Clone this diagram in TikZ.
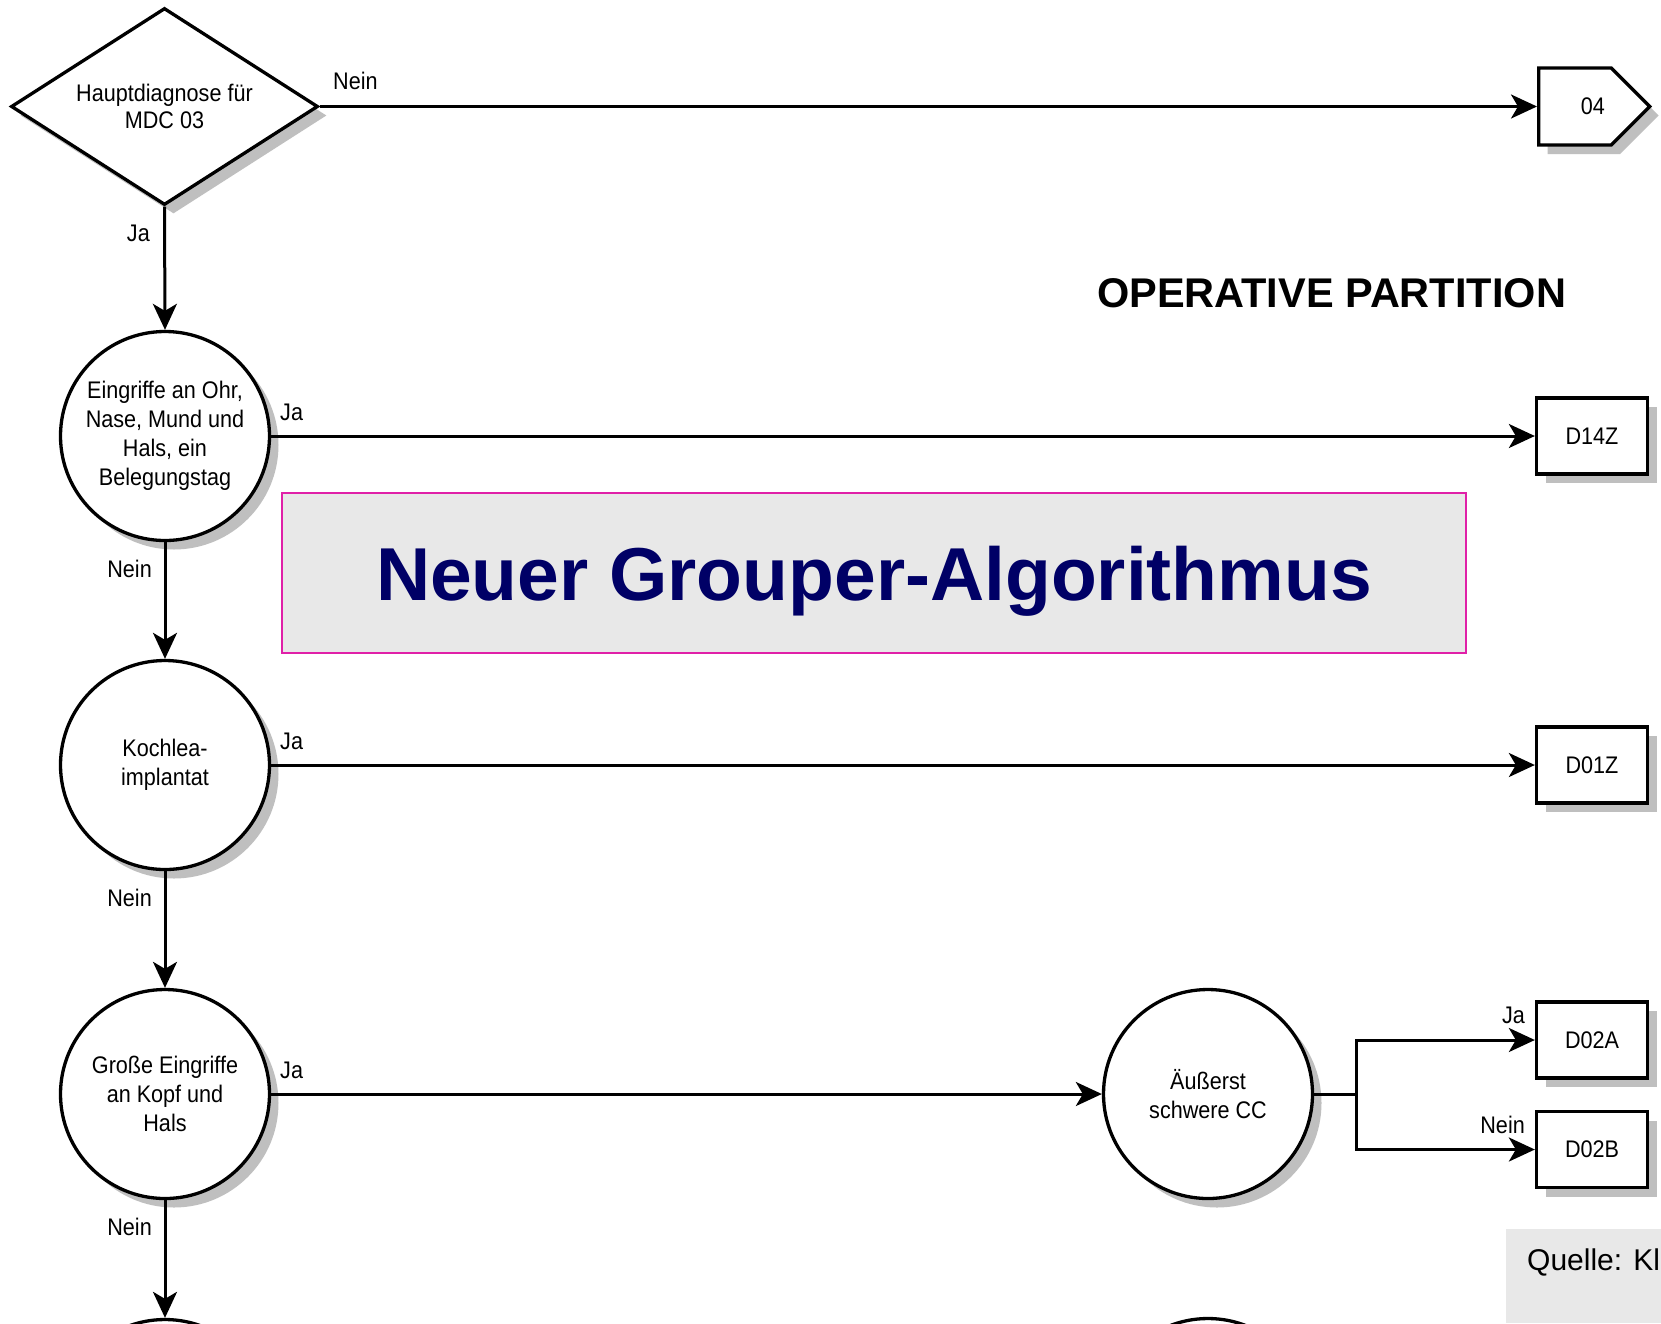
\documentclass[tikz,border=0pt]{standalone}
\usepackage{fontspec}
\setmainfont{Liberation Sans}
\newfontfamily\narrowfont[FakeStretch=0.9]{Liberation Sans}
\usetikzlibrary{shapes.geometric,shapes.symbols,shadows,arrows.meta}

\definecolor{bannerfill}{HTML}{E8E8E8}
\definecolor{bannerline}{HTML}{E020A8}
\definecolor{navytext}{HTML}{000066}

\tikzset{
    shadowed/.style={drop shadow={shadow xshift=9pt, shadow yshift=-9pt, fill=black!25, opacity=1}},
    decision/.style={diamond, aspect=1.56, draw, line width=3.3pt, fill=white, inner sep=0pt,
        minimum width=307pt, minimum height=197pt, align=center, shadowed,
        font=\narrowfont\fontsize{24}{27}\selectfont},
    query/.style={circle, draw, line width=3.3pt, fill=white, inner sep=0pt,
        minimum size=209pt, align=center, shadowed,
        font=\narrowfont\fontsize{24}{29}\selectfont},
    drg/.style={rectangle, draw, line width=3.3pt, fill=white,
        minimum width=111pt, minimum height=76pt, shadowed,
        font=\narrowfont\fontsize{24}{29}\selectfont},
    exitmdc/.style={signal, signal to=east, signal pointer angle=90, draw,
        line width=3.3pt, fill=white, minimum width=111pt, minimum height=77pt,
        inner sep=0pt, shadowed, font=\narrowfont\fontsize{24}{29}\selectfont},
    lbl/.style={inner sep=0pt, font=\narrowfont\fontsize{24}{28}\selectfont},
    arr/.style={line width=3pt, -{Stealth[length=26pt, width=24pt, inset=7pt]}}
}

\begin{document}
\begin{tikzpicture}[x=1pt, y=-1pt]
    \useasboundingbox (0,0) rectangle (1661,1323);
    \clip (0,0) rectangle (1661,1323);
    \fill[white] (0,0) rectangle (1661,1323);

    % Title
    \node[anchor=base, inner sep=0pt, font=\bfseries\fontsize{41.5}{48}\selectfont] (part) at (1331.5,307) {OPERATIVE PARTITION};

    % Banner
    \node[draw=bannerline, line width=1.6pt, fill=bannerfill, minimum width=1184pt,
        minimum height=160pt, inner sep=0pt, text depth=0pt, text=navytext,
        font=\bfseries\fontsize{75}{80}\selectfont] (banner) at (874,573) {Neuer Grouper-Algorithmus};

    % Source box (cut off at the edge)
    \fill[bannerfill] (1506,1229) rectangle (1661,1323);
    \node[anchor=base west, inner sep=0pt, font=\fontsize{30}{36}\selectfont] (src) at (1527,1270) {Quelle: Kl};

    % Decision on the principal diagnosis
    \node[decision] (mdc) at (164.5,106.5) {Hauptdiagnose für\\MDC 03};
    \node[exitmdc, anchor=west] (mdc04) at (1537,106.5) {\hspace*{36pt}04};

    % Queries down the left side
    \node[query] (ohr) at (165,436) {Eingriffe an Ohr,\\Nase, Mund und\\Hals, ein\\Belegungstag};
    \node[query] (kochlea) at (165,765) {Kochlea-\\implantat};
    \node[query] (kopf) at (165,1094) {Große Eingriffe\\an Kopf und\\Hals};
    \node[query] (next) at (165,1424) {};
    \node[query] (cc) at (1208,1094) {Äußerst\\schwere CC};
    \node[query] (nextcc) at (1208,1423) {};

    % DRGs
    \node[drg] (d14z) at (1592,436) {D14Z};
    \node[drg] (d01z) at (1592,765) {D01Z};
    \node[drg] (d02a) at (1592,1040) {D02A};
    \node[drg] (d02b) at (1592,1149.5) {D02B};

    % Connectors
    \draw[arr] (mdc.east) -- (mdc04.west);
    \draw[arr] (mdc.south) -- (ohr.north);
    \draw[arr] (ohr.east) -- (d14z.west);
    \draw[arr] (ohr.south) -- (kochlea.north);
    \draw[arr] (kochlea.east) -- (d01z.west);
    \draw[arr] (kochlea.south) -- (kopf.north);
    \draw[arr] (kopf.east) -- (cc.west);
    \draw[arr] (kopf.south) -- (next.north);
    \coordinate (split) at (1356,1094);
    \draw[line width=3pt] (cc.east) -- (split);
    \draw[arr] (split) |- (d02a.west);
    \draw[arr] (split) |- (d02b.west);

    % Labels
    \node[lbl, anchor=base west] (nein0) at (333,89) {Nein};
    \node[lbl, anchor=base east] (ja0) at (150,241) {Ja};
    \node[lbl, anchor=base west] (ja1) at (280,420) {Ja};
    \node[lbl, anchor=base east] (nein1) at (152,577) {Nein};
    \node[lbl, anchor=base west] (ja2) at (280,749) {Ja};
    \node[lbl, anchor=base east] (nein2) at (152,906) {Nein};
    \node[lbl, anchor=base west] (ja3) at (280,1078) {Ja};
    \node[lbl, anchor=base east] (nein3) at (152,1235) {Nein};
    \node[lbl, anchor=base east] (ja4) at (1525,1023) {Ja};
    \node[lbl, anchor=base east] (nein4) at (1525,1133) {Nein};
\end{tikzpicture}
\end{document}
